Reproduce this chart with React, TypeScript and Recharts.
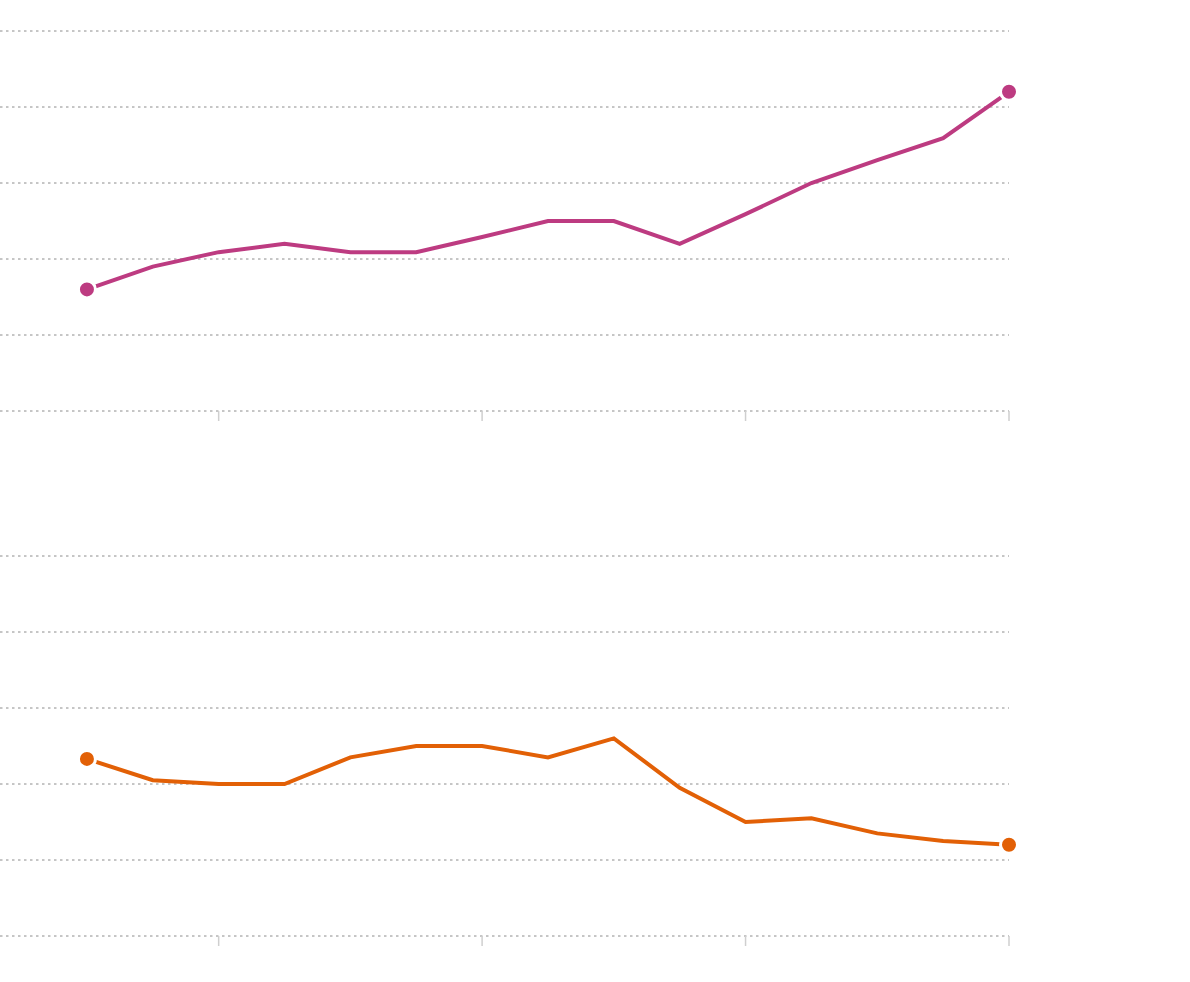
import { CartesianGrid, Line, LineChart, XAxis, YAxis } from "recharts";

const years = [2005, 2006, 2007, 2008, 2009, 2010, 2011, 2012, 2013, 2014, 2015, 2016, 2017, 2018, 2019];
const topValues = [1.6, 1.9, 2.09, 2.2, 2.09, 2.09, 2.29, 2.5, 2.5, 2.2, 2.59, 3.0, 3.3, 3.59, 4.2];
const bottomValues = [2.33, 2.05, 2.0, 2.0, 2.35, 2.5, 2.5, 2.35, 2.6, 1.95, 1.5, 1.55, 1.35, 1.25, 1.2];
const xTicks = [2007, 2011, 2015, 2019];
const yTicks = [0, 1, 2, 3, 4, 5];

const chartWidth = 1190;
const chartHeight = 525;

function EmptyTick() {
  return <g />;
}

function EndDot(props: any) {
  const { cx, cy, index, stroke } = props;
  if (index !== 0 && index !== years.length - 1) {
    return <g key={`dot-${index}`} />;
  }
  return <circle key={`dot-${index}`} cx={cx} cy={cy} r={8.5} fill={stroke} stroke="#fff" strokeWidth={3} />;
}

function SmallLine({ values, color }: { values: number[]; color: string }) {
  const data = years.map((year, i) => ({ year, value: values[i] }));

  return (
    <LineChart
      width={chartWidth}
      height={chartHeight}
      data={data}
      margin={{ top: 31, right: 181, bottom: 84, left: 0 }}
    >
      <CartesianGrid stroke="#8c8c8c" strokeDasharray="2.5 3.5" vertical={false} />
      <XAxis
        dataKey="year"
        type="number"
        domain={[2003.68, 2019]}
        ticks={xTicks}
        axisLine={false}
        tickLine={{ stroke: "#cfcfcf", strokeWidth: 1.5 }}
        tickSize={10}
        tick={EmptyTick}
        height={30}
      />
      <YAxis hide domain={[0, 5]} ticks={yTicks} />
      <Line
        type="linear"
        dataKey="value"
        stroke={color}
        strokeWidth={4}
        dot={EndDot}
        activeDot={false}
        isAnimationActive={false}
      />
    </LineChart>
  );
}

export default function App() {
  return (
    <div style={{ position: "absolute", left: 0, top: 0, width: 1190, height: 982, background: "#fff" }}>
      <SmallLine values={topValues} color="#bd3b81" />
      <SmallLine values={bottomValues} color="#e26006" />
    </div>
  );
}
